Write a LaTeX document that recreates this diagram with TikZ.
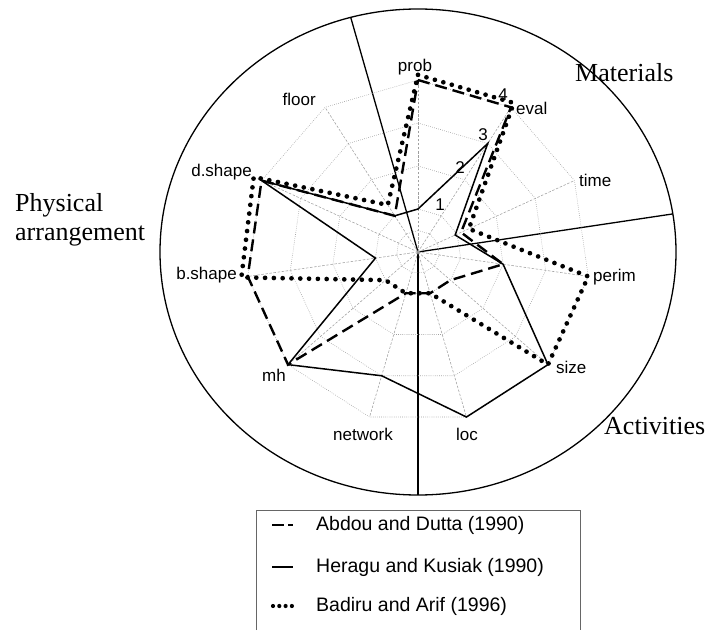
\documentclass[tikz,border=0pt]{standalone}
\usepackage{fontspec}
\setmainfont{Liberation Serif}
\setsansfont{Liberation Sans}
\usetikzlibrary{calc}
\begin{document}
\begin{tikzpicture}[x=1pt,y=1pt,
  axislabel/.style={font=\sffamily\fontsize{17}{19}\selectfont, inner sep=0pt},
  ticklabel/.style={font=\sffamily\fontsize{17}{19}\selectfont, inner sep=0pt},
  legendtext/.style={font=\sffamily\fontsize{19.5}{22}\selectfont, anchor=west, inner sep=0pt},
  region/.style={font=\rmfamily\fontsize{26}{28}\selectfont, anchor=west, inner sep=0pt},
  frame/.style={line width=1.3pt},
  gridring/.style={gray!75, line width=0.55pt, dash pattern=on 0.7pt off 1.4pt},
  gridspoke/.style={gray!75, line width=0.55pt, dash pattern=on 2.5pt off 1.6pt},
  abdou/.style={line width=2.4pt, dash pattern=on 12pt off 6pt},
  heragu/.style={line width=1.5pt},
  badiru/.style={line width=4.7pt, line cap=round, dash pattern=on 0pt off 8.8pt},
  keybox/.style={line width=0.6pt, gray!80!black},
]
\useasboundingbox (0,0) rectangle (707,630);

% frame: ellipse split into three sectors
\coordinate (C) at (418,378);
\draw[frame] (C) ellipse [x radius=258, y radius=243];
\draw[frame] (C) -- ++(106:244) coordinate (cutA);
\draw[frame] (C) -- ++(8.5:257.6) coordinate (cutB);
\draw[frame] (C) -- ++(270:243) coordinate (cutC);

\begin{scope}[shift={(C)}]
  % radar grid: spokes and rings (one unit = 43pt)
  \foreach \i in {0,...,10}
    \draw[gridspoke] (0,0) -- ({90-\i*360/11}:172);
  \foreach \r in {21.5,43,86,129,172} {
    \draw[gridring] (90:\r)
      \foreach \i in {1,...,10} { -- ({90-\i*360/11}:\r) } -- cycle;
  }

  % Abdou and Dutta (1990)
  \foreach \v [count=\i from 0] in {4,4,1.1,2,1,1,1,4,4,4,1}
    \coordinate (ad\i) at ({90-\i*360/11}:{\v*43});
  \draw[abdou] (ad0) -- (ad1) -- (ad2) -- (ad3) -- (ad4) -- (ad5) -- (ad6)
    -- (ad7) -- (ad8) -- (ad9) -- (ad10) -- cycle;

  % Heragu and Kusiak (1990)
  \foreach \v [count=\i from 0] in {1,3,0.95,2,4,4,3,4,1,4,1}
    \coordinate (hk\i) at ({90-\i*360/11}:{\v*43});
  \draw[heragu] (hk0) -- (hk1) -- (hk2) -- (hk3) -- (hk4) -- (hk5) -- (hk6)
    -- (hk7) -- (hk8) -- (hk9) -- (hk10) -- cycle;

  % Badiru and Arif (1996)
  \foreach \v [count=\i from 0] in {4.12,4.12,1.3,4,4,1,1,1,4.15,4.2,1.3}
    \coordinate (ba\i) at ({90-\i*360/11}:{\v*43});
  \draw[badiru] (ba0) -- (ba1) -- (ba2) -- (ba3) -- (ba4) -- (ba5) -- (ba6)
    -- (ba7) -- (ba8) -- (ba9) -- (ba10) -- cycle;
\end{scope}

% scale values along the eval spoke
\node[ticklabel] (t1) at (440,425) {1};
\node[ticklabel] (t2) at (460,462) {2};
\node[ticklabel] (t3) at (483,495) {3};
\node[ticklabel] (t4) at (503,535) {4};

% spoke labels
\node[axislabel] (lprob) at (415,563) {prob};
\node[axislabel, anchor=west] (leval) at (516,522) {eval};
\node[axislabel, anchor=west] (ltime) at (579,450) {time};
\node[axislabel, anchor=west] (lperim) at (593,353) {perim};
\node[axislabel, anchor=west] (lsize) at (556,263) {size};
\node[axislabel] (lloc) at (467,196) {loc};
\node[axislabel] (lnet) at (363,196) {network};
\node[axislabel] (lmh) at (274,255) {mh};
\node[axislabel, anchor=east] (lbshape) at (237,355) {b.shape};
\node[axislabel, anchor=east] (ldshape) at (252,458) {d.shape};
\node[axislabel, anchor=east] (lfloor) at (316,531) {floor};

% sector titles
\node[region] (tmat) at (575,557) {Materials};
\node[region] (tact) at (604,204) {Activities};
\node[region] (tphys) at (15,425) {Physical};
\node[region] (tarr) at (15,394) {arrangement};

% legend
\draw[keybox] (256,0) -- (256,120) -- (580,120) -- (580,0);
\coordinate (k1a) at (272,105); \coordinate (k1b) at (293,105);
\coordinate (k2a) at (272,63);  \coordinate (k2b) at (293,63);
\coordinate (k3a) at (273,24);  \coordinate (k3b) at (292,24);
\draw[line width=2.4pt, dash pattern=on 12pt off 4pt] (k1a) -- (k1b);
\draw[line width=1.5pt] (k2a) -- (k2b);
\draw[line width=4.2pt, line cap=round, dash pattern=on 0pt off 6.3pt] (k3a) -- (k3b);
\node[legendtext] (key1) at (316,105) {Abdou and Dutta (1990)};
\node[legendtext] (key2) at (316,63) {Heragu and Kusiak (1990)};
\node[legendtext] (key3) at (316,24) {Badiru and Arif (1996)};
\end{tikzpicture}
\end{document}
